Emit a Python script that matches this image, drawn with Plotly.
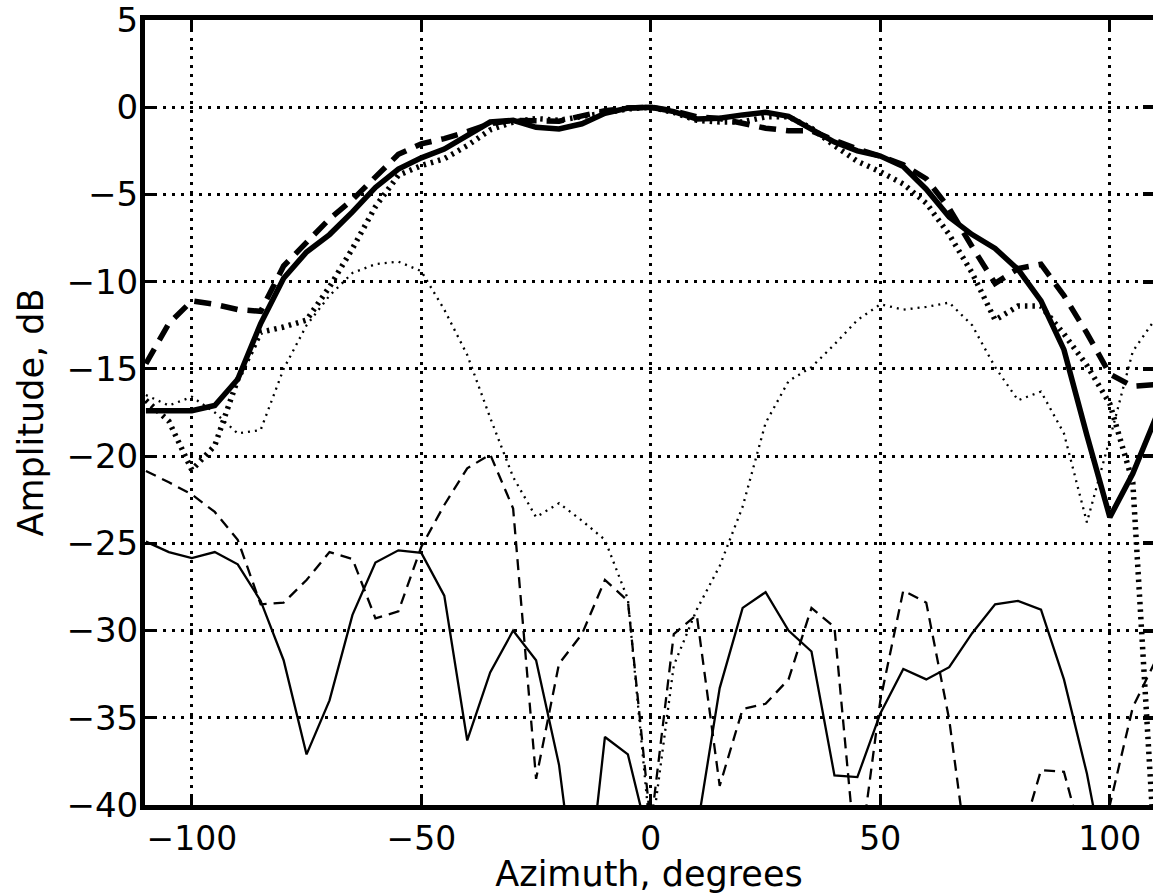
import plotly.graph_objects as go

# Azimuth samples (degrees)
azimuth = [-110, -105, -100, -95, -90, -85, -80, -75, -70, -65, -60, -55, -50, -45,
           -40, -35, -30, -25, -20, -15, -10, -5, 0, 5, 10, 15, 20, 25, 30, 35, 40,
           45, 50, 55, 60, 65, 70, 75, 80, 85, 90, 95, 100, 105, 110]

# Co-polar patterns (thick lines), dB
co_solid = [-17.4, -17.4, -17.4, -17.1, -15.6, -12.4, -9.8, -8.3, -7.3, -6.0, -4.6, -3.55,
            -2.9, -2.4, -1.6, -0.85, -0.75, -1.15, -1.25, -0.95, -0.35, -0.05, 0.0, -0.25,
            -0.67, -0.63, -0.44, -0.29, -0.52, -1.25, -2.0, -2.5, -2.8, -3.4, -4.7, -6.3,
            -7.3, -8.1, -9.3, -11.1, -13.9, -18.8, -23.5, -21.0, -17.8]
co_dashed = [-14.7, -12.4, -11.1, -11.3, -11.6, -11.7, -9.1, -7.7, -6.4, -5.3, -4.0, -2.7,
             -2.1, -1.8, -1.4, -0.95, -0.75, -0.8, -0.8, -0.5, -0.2, -0.05, 0.0, -0.2,
             -0.55, -0.65, -0.9, -1.2, -1.35, -1.35, -1.9, -2.4, -2.8, -3.3, -4.1, -5.8,
             -8.0, -10.1, -9.25, -9.0, -10.8, -12.95, -15.3, -16.0, -15.9]
co_dotted = [-16.8, -18.0, -20.8, -19.4, -15.6, -12.9, -12.6, -12.2, -10.3, -8.1, -5.7, -3.9,
             -3.35, -2.95, -2.2, -1.3, -0.85, -0.65, -0.75, -0.55, -0.3, -0.1, 0.0, -0.3,
             -0.75, -0.85, -0.85, -0.55, -0.55, -1.2, -2.2, -3.1, -3.7, -4.4, -5.5, -7.3,
             -9.5, -12.2, -11.4, -11.4, -13.0, -14.8, -17.0, -21.5, -43.7]

# Cross-polar patterns (thin lines), dB
x_solid = [-24.9, -25.5, -25.85, -25.5, -26.2, -28.3, -31.7, -37.1, -34.0, -29.1, -26.1, -25.4,
           -25.55, -28.0, -36.3, -32.4, -30.0, -31.7, -37.7, -48.0, -36.1, -37.1, -42.5, -46.0,
           -41.5, -33.3, -28.7, -27.8, -30.0, -31.2, -38.3, -38.4, -34.75, -32.2, -32.8, -32.1,
           -30.15, -28.5, -28.3, -28.8, -32.8, -38.2, -45.0, -46.0, -44.0]
x_dashed = [-20.85, -21.5, -22.2, -23.2, -24.8, -28.5, -28.4, -27.1, -25.5, -25.9, -29.3, -28.9,
            -25.2, -22.8, -20.7, -19.9, -23.0, -38.5, -31.9, -30.2, -27.1, -28.3, -41.2, -30.2,
            -29.1, -38.9, -34.5, -34.2, -32.8, -28.7, -29.8, -44.0, -34.0, -27.7, -28.4, -35.1,
            -45.0, -47.0, -42.5, -38.0, -38.1, -43.0, -40.0, -34.4, -31.7]
x_dotted = [-16.5, -17.1, -16.6, -17.5, -18.7, -18.5, -15.0, -12.5, -10.8, -9.5, -9.0, -8.85,
            -9.4, -11.6, -14.2, -17.8, -21.2, -23.5, -22.7, -23.7, -24.8, -28.2, -42.0, -32.0,
            -28.8, -26.3, -22.9, -18.1, -15.7, -14.9, -13.6, -12.2, -11.3, -11.6, -11.45, -11.2,
            -12.5, -14.9, -16.8, -16.3, -18.7, -23.8, -19.0, -14.0, -12.1]

x_ticks = [-100, -50, 0, 50, 100]
y_ticks = [5, 0, -5, -10, -15, -20, -25, -30, -35, -40]

FONT = "DejaVu Sans"

fig = go.Figure()

series = [
    (x_solid, 2.3, "solid"),
    (x_dashed, 2.3, "11px,7px"),
    (x_dotted, 2.3, "2px,5px"),
    (co_dotted, 5.5, "2.5px,5px"),
    (co_dashed, 5.5, "17px,10px"),
    (co_solid, 5.5, "solid"),
]
for vals, w, d in series:
    fig.add_trace(go.Scatter(x=azimuth, y=vals, mode="lines",
                             line=dict(color="black", width=w, dash=d),
                             showlegend=False, hoverinfo="skip"))

# invisible carrier for the right-hand tick axis
fig.add_trace(go.Scatter(x=[azimuth[0]], y=[co_solid[0]], yaxis="y2", mode="lines",
                         opacity=0, showlegend=False, hoverinfo="skip"))

fig.update_layout(
    width=1153, height=894,
    margin=dict(l=145, r=0, t=20, b=89),
    paper_bgcolor="white", plot_bgcolor="white",
    font=dict(family=FONT, color="black", size=33),
    xaxis=dict(
        range=[-110.2, 109.4], tickvals=x_ticks,
        ticks="inside", ticklen=10, tickwidth=3, tickcolor="black",
        showline=True, linewidth=5, linecolor="black", mirror="ticks",
        showgrid=True, gridcolor="black", gridwidth=2.5, griddash="3px,6px",
        zeroline=False, tickfont=dict(family=FONT, size=33),
        title=dict(text="Azimuth, degrees", font=dict(family=FONT, size=35), standoff=1),
        automargin=False,
    ),
    yaxis=dict(
        range=[-40, 5], tickvals=y_ticks,
        ticks="inside", ticklen=10, tickwidth=3, tickcolor="black",
        showline=True, linewidth=5, linecolor="black", mirror=False,
        showgrid=True, gridcolor="black", gridwidth=2.5, griddash="3px,6px",
        zeroline=False, tickfont=dict(family=FONT, size=34), ticklabelstandoff=-5,
        ticklabeloverflow="allow",
        title=dict(text="Amplitude, dB", font=dict(family=FONT, size=35), standoff=14),
        automargin=False,
    ),
    yaxis2=dict(
        overlaying="y", side="right", anchor="x", matches="y",
        tickvals=y_ticks, ticks="inside", ticklen=10, tickwidth=4, tickcolor="black",
        showticklabels=False, showgrid=False, showline=False, zeroline=False,
    ),
)

fig.write_html("out.html")
